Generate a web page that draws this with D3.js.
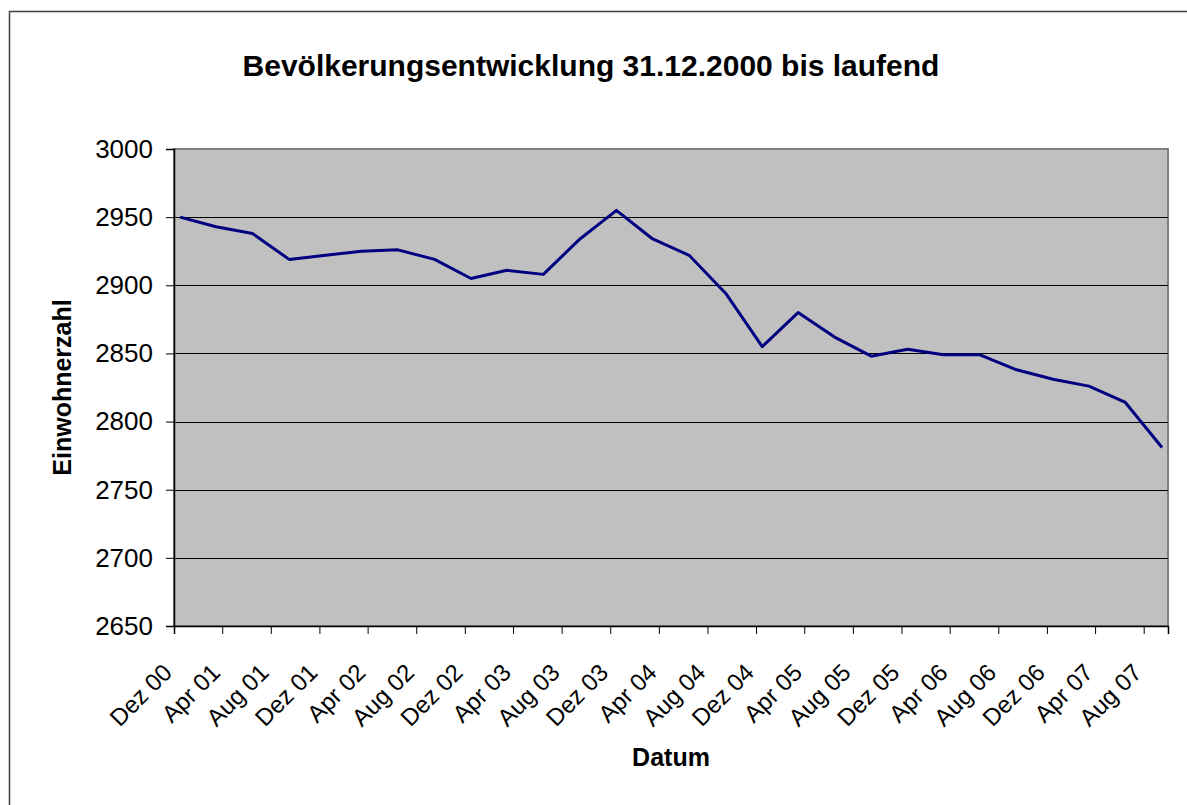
<!DOCTYPE html>
<html>
<head>
<meta charset="utf-8">
<script src="https://cdn.jsdelivr.net/npm/d3@7"></script>
<style>
  html, body { margin: 0; padding: 0; overflow: hidden; background: #ffffff; }
  svg { display: block; }
  svg text { font-family: "Liberation Sans", Arial, sans-serif; fill: #000000; }
</style>
</head>
<body>
<div id="chart"></div>
<script>
// ------------------------------------------------------------
// DATA
// ------------------------------------------------------------
var months = [
    "2000-12", "2001-03", "2001-06", "2001-09", "2001-12", "2002-03", "2002-06",
    "2002-09", "2002-12", "2003-03", "2003-06", "2003-09", "2003-12", "2004-03",
    "2004-06", "2004-09", "2004-12", "2005-03", "2005-06", "2005-09", "2005-12",
    "2006-03", "2006-06", "2006-09", "2006-12", "2007-03", "2007-06", "2007-09"
];
var einwohner = [
    2950, 2943, 2938, 2919, 2922, 2925, 2926,
    2919, 2905, 2911, 2908, 2934, 2955, 2934,
    2922, 2894, 2855, 2880, 2862, 2848, 2853,
    2849, 2849, 2838, 2831, 2826, 2814, 2781
];
var tickLabels = [
    "Dez 00", "Apr 01", "Aug 01", "Dez 01", "Apr 02", "Aug 02", "Dez 02",
    "Apr 03", "Aug 03", "Dez 03", "Apr 04", "Aug 04", "Dez 04", "Apr 05",
    "Aug 05", "Dez 05", "Apr 06", "Aug 06", "Dez 06", "Apr 07", "Aug 07"
];
var yTicks = [2650, 2700, 2750, 2800, 2850, 2900, 2950, 3000];

function chartBevoelkerung_Draw(ele) {
    ele = "#" + ele;
    d3.select(ele).selectAll("svg").remove();

    // Dimensions
    var w = 1187, h = 805;
    var left = 174, right = 1168, top = 149, bottom = 626;

    var parseMonth = d3.timeParse("%Y-%m");
    var data = months.map(function(m, i) {
        return { date: parseMonth(m), value: einwohner[i] };
    });

    var start = parseMonth("2000-12");
    var end = parseMonth("2007-10");

    var x = d3.scaleTime().domain([start, end]).range([left, right]);
    var y = d3.scaleLinear().domain([2650, 3000]).range([bottom, top]);

    // point sits in the middle of its month
    function xMid(d) {
        return (x(d) + x(d3.timeMonth.offset(d, 1))) / 2;
    }

    var svg = d3.select(ele)
        .append("svg")
        .attr("width", w)
        .attr("height", h);

    // Outer frame: only top and left edges are inside the picture
    svg.append("path")
        .attr("d", "M9.5," + h + "V11.5H" + w)
        .attr("fill", "none")
        .attr("stroke", "#404040")
        .attr("stroke-width", 1.5);

    // Title
    svg.append("text")
        .attr("x", 591)
        .attr("y", 76)
        .attr("text-anchor", "middle")
        .attr("font-size", "30px")
        .attr("font-weight", "bold")
        .text("Bevölkerungsentwicklung 31.12.2000 bis laufend");

    // Plot area
    svg.append("rect")
        .attr("x", left)
        .attr("y", top)
        .attr("width", right - left)
        .attr("height", bottom - top)
        .attr("fill", "#c0c0c0")
        .attr("stroke", "#808080")
        .attr("stroke-width", 2);

    // Grid lines
    svg.append("g")
        .selectAll("line")
        .data(yTicks.filter(function(t) { return t > 2650 && t < 3000; }))
        .enter()
        .append("line")
        .attr("x1", left)
        .attr("x2", right)
        .attr("y1", function(d) { return Math.round(y(d)) + 0.5; })
        .attr("y2", function(d) { return Math.round(y(d)) + 0.5; })
        .attr("stroke", "#000000")
        .attr("stroke-width", 1);

    // Y axis
    var yAxis = svg.append("g")
        .attr("transform", "translate(" + left + ",0)")
        .call(d3.axisLeft(y).tickValues(yTicks).tickSize(8).tickPadding(13).tickFormat(d3.format("d")));
    yAxis.select(".domain").attr("stroke", "#000000").attr("stroke-width", 1.5);
    yAxis.selectAll("text").attr("font-size", "26px").attr("font-family", "Liberation Sans, Arial, sans-serif");

    // X axis
    var tickDates = d3.timeMonth.range(start, end, 4);
    var xAxis = svg.append("g")
        .attr("transform", "translate(0," + bottom + ")")
        .call(d3.axisBottom(x).tickValues(tickDates).tickSize(8).tickFormat(function(d, i) { return tickLabels[i]; }));
    xAxis.select(".domain").attr("stroke", "#000000").attr("stroke-width", 1.5);
    xAxis.selectAll("text")
        .attr("font-size", "24px")
        .attr("font-family", "Liberation Sans, Arial, sans-serif")
        .attr("text-anchor", "end")
        .attr("dy", "0.35em")
        .attr("transform", "translate(-7,42) rotate(-45)")
        .attr("x", 0)
        .attr("y", 0);

    // Line
    var line = d3.line()
        .x(function(d) { return xMid(d.date); })
        .y(function(d) { return y(d.value); });

    svg.append("path")
        .datum(data)
        .attr("d", line)
        .attr("fill", "none")
        .attr("stroke", "#000080")
        .attr("stroke-width", 3)
        .attr("stroke-linejoin", "round");

    // Axis titles
    svg.append("text")
        .attr("x", (left + right) / 2)
        .attr("y", 766)
        .attr("text-anchor", "middle")
        .attr("font-size", "25px")
        .attr("font-weight", "bold")
        .text("Datum");

    svg.append("text")
        .attr("transform", "translate(71," + ((top + bottom) / 2) + ") rotate(-90)")
        .attr("text-anchor", "middle")
        .attr("font-size", "25px")
        .attr("font-weight", "bold")
        .text("Einwohnerzahl");
}

chartBevoelkerung_Draw("chart");
</script>
</body>
</html>
